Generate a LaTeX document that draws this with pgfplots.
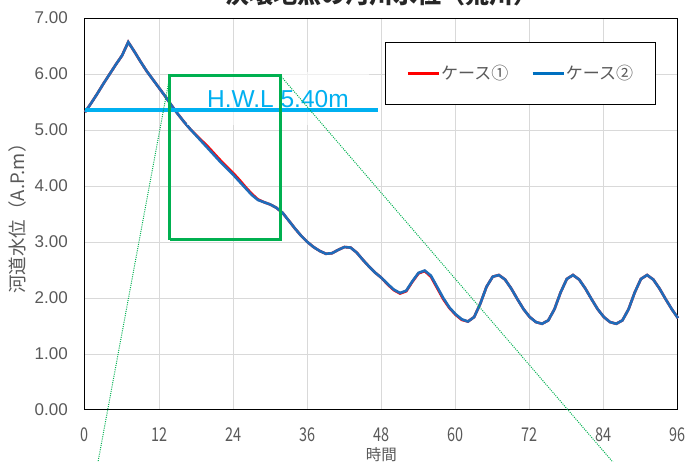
\documentclass[border=0pt]{standalone}
\usepackage{fontspec}
\usepackage{pgfplots}
\pgfplotsset{compat=1.18}
\setmainfont{Noto Sans CJK JP}
\newfontfamily\arialf{Liberation Sans}
\newfontfamily\xtfont[FakeStretch=0.76]{Noto Sans CJK JP}
\definecolor{gridgray}{RGB}{217,217,217}
\definecolor{tickgray}{RGB}{89,89,89}
\definecolor{hwlblue}{RGB}{0,176,240}
\definecolor{boxgreen}{RGB}{0,176,80}
\definecolor{c2blue}{RGB}{31,108,186}
\definecolor{legblue}{RGB}{0,112,192}
\begin{document}
\begin{tikzpicture}
\begin{axis}[
  at={(0,0)}, anchor=south west,
  scale only axis, width=593bp, height=392bp,
  xmin=0, xmax=96, ymin=0, ymax=7,
  xtick={0,12,24,36,48,60,72,84,96},
  xticklabels={0,12,24,36,48,60,72,84,96},
  ytick={0,1,2,3,4,5,6,7},
  yticklabels={0.00,1.00,2.00,3.00,4.00,5.00,6.00,7.00},
  major tick length=0pt,
  grid=major,
  grid style={draw=gridgray, line width=1bp},
  axis line style={black, line width=1bp},
  clip=false,
  xticklabel style={font=\xtfont\fontsize{19bp}{19bp}\selectfont, text=tickgray, anchor=north, inner sep=0pt, yshift=-18bp},
  yticklabel style={font=\arialf\fontsize{17bp}{17bp}\selectfont, text=tickgray, anchor=east, inner sep=0pt, xshift=-17bp},
  every axis x label/.style={at={(rel axis cs:0.5,-0.0944)}, anchor=north, inner sep=0pt, font=\fontsize{15.5bp}{15.5bp}\selectfont, text=tickgray},
  every axis y label/.style={at={(rel axis cs:-0.1147,0.5)}, rotate=90, anchor=center, inner sep=0pt, font=\fontsize{18.5bp}{18.5bp}\selectfont, text=tickgray},
  xlabel={時間},
  ylabel={河道水位（A.P.m）},
  legend columns=2,
  legend image code/.code={\draw[#1, line width=2.6bp] (0bp,0bp) -- (31bp,0bp);},
  legend style={at={(rel axis cs:0.506,0.939)}, anchor=north west, draw=black, line width=1bp, fill=white,
    inner xsep=21bp, inner ysep=22bp, font=\fontsize{17bp}{17bp}\selectfont, text=tickgray,
    nodes={inner sep=1bp},
    /tikz/every even column/.style={column sep=22bp}},
]
% ケース1
\addplot[red, line width=2.6bp] coordinates {
(0,5.32)(1,5.48)(2,5.65)(3,5.83)(4,6.00)(5,6.17)(6,6.33)(7,6.57)(8,6.40)(9,6.22)(10,6.05)(11,5.90)(12,5.75)(13,5.60)(14,5.44)(15,5.29)(16,5.15)(17,5.02)(18,4.91)(19,4.80)(20,4.69)(21,4.57)(22,4.45)(23,4.34)(24,4.23)(25,4.11)(26,3.98)(27,3.86)(28,3.76)(29,3.71)(30,3.67)(31,3.61)(32,3.52)(33,3.38)(34,3.24)(35,3.11)(36,3.00)(37,2.91)(38,2.84)(39,2.79)(40,2.80)(41,2.86)(42,2.91)(43,2.90)(44,2.81)(45,2.68)(46,2.56)(47,2.45)(48,2.36)(49,2.24)(50,2.14)(51,2.08)(52,2.12)(53,2.29)(54,2.44)(55,2.48)(56,2.38)(57,2.18)(58,1.98)(59,1.82)(60,1.70)(61,1.61)(62,1.58)(63,1.66)(64,1.90)(65,2.20)(66,2.38)(67,2.41)(68,2.33)(69,2.17)(70,1.98)(71,1.80)(72,1.66)(73,1.57)(74,1.54)(75,1.60)(76,1.80)(77,2.10)(78,2.34)(79,2.41)(80,2.33)(81,2.17)(82,1.98)(83,1.80)(84,1.66)(85,1.57)(86,1.54)(87,1.60)(88,1.80)(89,2.10)(90,2.34)(91,2.41)(92,2.33)(93,2.17)(94,1.98)(95,1.80)(96,1.64)
};
\addlegendentry{ケース①}
% ケース2
\addplot[c2blue, line width=2.6bp, legend image post style={legblue}] coordinates {
(0,5.32)(1,5.48)(2,5.65)(3,5.83)(4,6.00)(5,6.17)(6,6.33)(7,6.57)(8,6.40)(9,6.22)(10,6.05)(11,5.90)(12,5.75)(13,5.60)(14,5.44)(15,5.29)(16,5.15)(17,5.02)(18,4.90)(19,4.78)(20,4.66)(21,4.54)(22,4.42)(23,4.31)(24,4.20)(25,4.08)(26,3.96)(27,3.84)(28,3.75)(29,3.71)(30,3.67)(31,3.61)(32,3.52)(33,3.38)(34,3.24)(35,3.11)(36,3.00)(37,2.91)(38,2.84)(39,2.79)(40,2.80)(41,2.86)(42,2.91)(43,2.90)(44,2.81)(45,2.68)(46,2.56)(47,2.45)(48,2.36)(49,2.25)(50,2.15)(51,2.09)(52,2.13)(53,2.30)(54,2.45)(55,2.49)(56,2.40)(57,2.20)(58,2.00)(59,1.83)(60,1.71)(61,1.62)(62,1.58)(63,1.66)(64,1.90)(65,2.20)(66,2.38)(67,2.41)(68,2.33)(69,2.17)(70,1.98)(71,1.80)(72,1.66)(73,1.57)(74,1.54)(75,1.60)(76,1.80)(77,2.10)(78,2.34)(79,2.41)(80,2.33)(81,2.17)(82,1.98)(83,1.80)(84,1.66)(85,1.57)(86,1.54)(87,1.60)(88,1.80)(89,2.10)(90,2.34)(91,2.41)(92,2.33)(93,2.17)(94,1.98)(95,1.80)(96,1.64)
};
\addlegendentry{ケース②}
% H.W.L label
\addplot[draw=none, forget plot] coordinates {(16.5,5.41)}
  node[anchor=base west, fill=white, fill opacity=0.6, text opacity=1, inner xsep=20bp, inner ysep=18bp,
       text=hwlblue, font=\arialf\fontsize{24.5bp}{24.5bp}\selectfont] at (axis cs:16.5,5.41) {H.W.L 5.40m};
% H.W.L line
\addplot[hwlblue, line width=4bp, forget plot] coordinates {(0,5.35) (47.4,5.35)};
% green box
\addplot[boxgreen, line width=3bp, forget plot] coordinates {(13.76,3.04) (31.57,3.04) (31.57,5.98) (13.76,5.98) (13.76,3.04)};
% dotted lines
\addplot[boxgreen, line width=1bp, dash pattern=on 1bp off 1.2bp, forget plot] coordinates {(13.76,5.98) (1.14,-1.5)};
\addplot[boxgreen, line width=1bp, dash pattern=on 1bp off 1.2bp, forget plot] coordinates {(31.57,5.98) (89.9,-1.5)};
% title (cut off at the top edge, as in the original)
\node[anchor=south, inner sep=0pt, font=\bfseries\fontsize{24bp}{24bp}\selectfont, text=black!85] at (rel axis cs:0.5,1.0306) {決壊地点の河川水位（荒川）};
\end{axis}
\pgfresetboundingbox
\useasboundingbox (-85bp,-52bp) rectangle (603bp,410bp);
\end{tikzpicture}
\end{document}
